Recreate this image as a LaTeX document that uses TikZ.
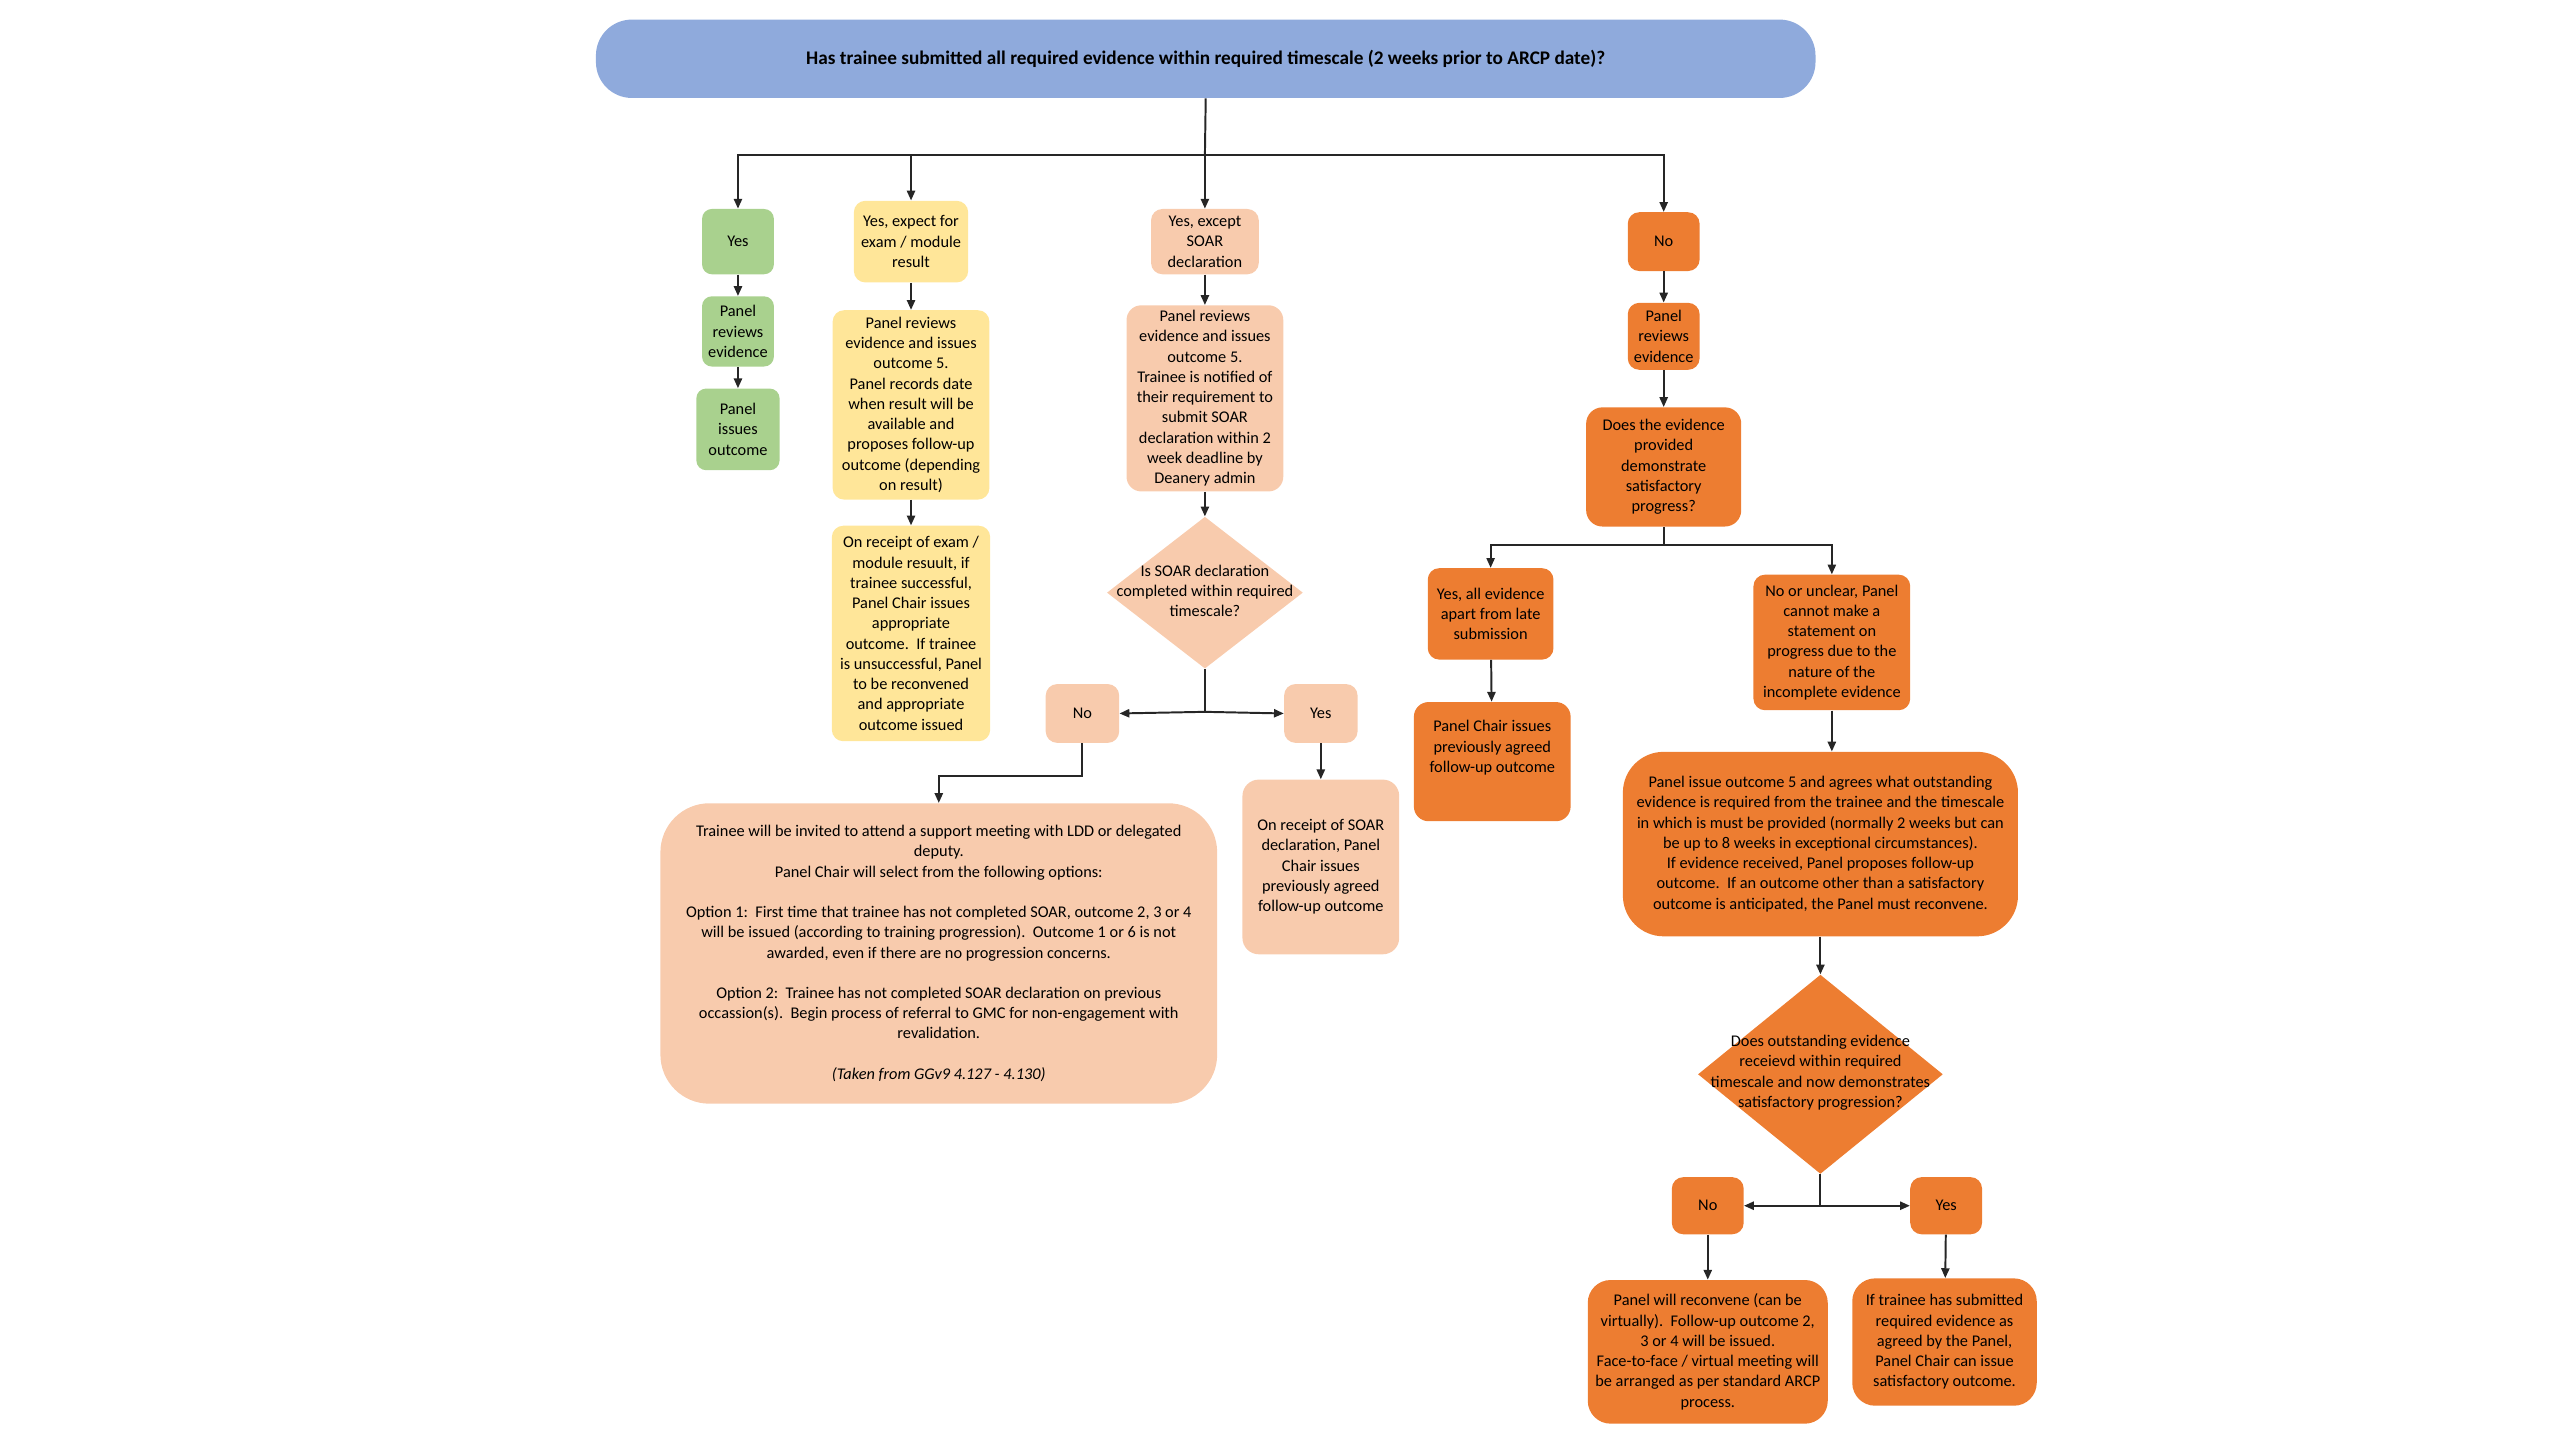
\documentclass[tikz,border=0pt]{standalone}
\usepackage{fontspec}
\setmainfont{Carlito}
\usetikzlibrary{arrows.meta,shapes.geometric,calc}
\definecolor{barblue}{HTML}{8FAADC}
\definecolor{grn}{HTML}{A9D18E}
\definecolor{ylw}{HTML}{FFE699}
\definecolor{pch}{HTML}{F8CBAD}
\definecolor{orng}{HTML}{ED7D31}
\begin{document}
\begin{tikzpicture}[x=1pt,y=-1pt,
  base/.style={align=center, inner sep=1pt, font=\fontsize{10}{12.4}\selectfont, text=black},
  sz/.style 2 args={minimum width=#1pt, minimum height=#2pt},
  gbox/.style={base, fill=grn, rounded corners=6pt},
  ybox/.style={base, fill=ylw, rounded corners=7pt},
  pbox/.style={base, fill=pch, rounded corners=7pt},
  obox/.style={base, fill=orng, rounded corners=7pt},
  dtext/.style={base},
  ln/.style={draw=black!85, line width=1.2pt},
  arr/.style={ln, -{Triangle[length=6pt,width=5pt]}},
]
\useasboundingbox (0,0) rectangle (1568,882);

% top bar
\node[base, fill=barblue, rounded corners=22pt, sz={747}{48}, font=\fontsize{11.8}{13}\selectfont\bfseries] (bar) at (738.5,36)
  {Has trainee submitted all required evidence within required timescale (2 weeks prior to ARCP date)?};

% green column
\node[gbox, sz={44}{40}] (y1) at (452,148) {Yes};
\node[gbox, sz={44}{43}] (y2) at (452,203) {Panel\\reviews\\evidence};
\node[gbox, sz={51}{50}] (y3) at (452,263) {Panel\\issues\\outcome};

% yellow column
\node[ybox, sz={70}{50}] (e1) at (558,148) {Yes, expect for\\exam / module\\result};
\node[ybox, sz={96}{116}] (e2) at (558,248) {Panel reviews\\evidence and issues\\outcome 5.\\Panel records date\\when result will be\\available and\\proposes follow-up\\outcome (depending\\on result)};
\node[ybox, sz={97}{132}] (e3) at (558,388) {On receipt of exam /\\module resuult, if\\trainee successful,\\Panel Chair issues\\appropriate\\outcome.\ \ If trainee\\is unsuccessful, Panel\\to be reconvened\\and appropriate\\outcome issued};

% peach column
\node[pbox, sz={66}{40}] (s1) at (738,148) {Yes, except\\SOAR\\declaration};
\node[pbox, sz={96}{114}, rounded corners=9pt] (s2) at (738,244) {Panel reviews\\evidence and issues\\outcome 5.\\Trainee is notified of\\their requirement to\\submit SOAR\\declaration within 2\\week deadline by\\Deanery admin};
\node[draw=none, fill=pch, diamond, inner sep=0pt, minimum width=120pt, minimum height=93pt] (sd) at (738,363) {};
\node[dtext] (sdt) at (738,362) {Is SOAR declaration\\completed within required\\timescale?};
\node[pbox, sz={45}{36}] (sn) at (663,437) {No};
\node[pbox, sz={45}{36}] (sy) at (809,437) {Yes};
\node[pbox, sz={341}{184}, rounded corners=30pt] (sbig) at (575,584) {Trainee will be invited to attend a support meeting with LDD or delegated\\deputy.\\Panel Chair will select from the following options:\\[12.4pt]Option 1:\ \ First time that trainee has not completed SOAR, outcome 2, 3 or 4\\will be issued (according to training progression).\ \ Outcome 1 or 6 is not\\awarded, even if there are no progression concerns.\\[12.4pt]Option 2:\ \ Trainee has not completed SOAR declaration on previous\\occassion(s).\ \ Begin process of referral to GMC for non-engagement with\\revalidation.\\[12.4pt]\textit{(Taken from GGv9 4.127 - 4.130)}};
\node[pbox, sz={96}{107}, rounded corners=10pt] (sr) at (809,531) {On receipt of SOAR\\declaration, Panel\\Chair issues\\previously agreed\\follow-up outcome};

% orange column
\node[obox, sz={44}{36}] (n1) at (1019,148) {No};
\node[obox, sz={44}{41}] (n2) at (1019,206) {Panel\\reviews\\evidence};
\node[obox, sz={95}{73}, rounded corners=10pt] (nq) at (1019,286) {Does the evidence\\provided\\demonstrate\\satisfactory\\progress?};
\node[obox, sz={77}{56}] (na) at (913,376) {Yes, all evidence\\apart from late\\submission};
\node[obox, sz={96}{83}] (nu) at (1122,393.5) {No or unclear, Panel\\cannot make a\\statement on\\progress due to the\\nature of the\\incomplete evidence};
\node[obox, sz={96}{73}, rounded corners=9pt] (pc) at (914,466.5) {};
\node[base] (pct) at (914,458) {Panel Chair issues\\previously agreed\\follow-up outcome};
\node[obox, sz={242}{113}, rounded corners=25pt] (pio) at (1115,517) {Panel issue outcome 5 and agrees what outstanding\\evidence is required from the trainee and the timescale\\in which is must be provided (normally 2 weeks but can\\be up to 8 weeks in exceptional circumstances).\\If evidence received, Panel proposes follow-up\\outcome.\ \ If an outcome other than a satisfactory\\outcome is anticipated, the Panel must reconvene.};
\node[draw=none, fill=orng, diamond, inner sep=0pt, minimum width=150pt, minimum height=122pt] (d2) at (1115,658) {};
\node[dtext] (d2t) at (1115,657) {Does outstanding evidence\\receievd within required\\timescale and now demonstrates\\satisfactory progression?};
\node[obox, sz={44}{35}] (dn) at (1046,738.5) {No};
\node[obox, sz={44}{35}] (dy) at (1192,738.5) {Yes};
\node[obox, sz={147}{88}, rounded corners=14pt] (rec) at (1046,828) {Panel will reconvene (can be\\virtually).\ \ Follow-up outcome 2,\\3 or 4 will be issued.\\Face-to-face / virtual meeting will\\be arranged as per standard ARCP\\process.};
\node[obox, sz={113}{78}, rounded corners=14pt] (ift) at (1191,822) {If trainee has submitted\\required evidence as\\agreed by the Panel,\\Panel Chair can issue\\satisfactory outcome.};

% connectors
\coordinate (j0) at (738,95);
\draw[ln] (bar.south) -- (j0);
\draw[arr] (j0) -| (y1.north);
\draw[arr] (j0) -| (e1.north);
\draw[arr] (j0) -- (s1.north);
\draw[arr] (j0) -| (n1.north);

\draw[arr] (y1) -- (y2);
\draw[arr] (y2) -- (y3);
\draw[arr] (e1) -- (e2);
\draw[arr] (e2) -- (e3);
\draw[arr] (s1) -- (s2);
\draw[arr] (s2) -- (sd);

\coordinate (j1) at (738,436);
\draw[ln] (sd.south) -- (j1);
\draw[arr] (j1) -- (sn.east);
\draw[arr] (j1) -- (sy.west);
\draw[arr] (sn.south) -- ++(0,20) -| (sbig.north);
\draw[arr] (sy) -- (sr);

\draw[arr] (n1) -- (n2);
\draw[arr] (n2) -- (nq);
\coordinate (j2) at (1019,334);
\draw[ln] (nq.south) -- (j2);
\draw[arr] (j2) -| (na.north);
\draw[arr] (j2) -| (nu.north);
\draw[arr] (na) -- (pc);
\draw[arr] (nu.south) -- (nu.south |- pio.north);
\draw[arr] (pio) -- (d2);

\coordinate (j3) at (1115,738.5);
\draw[ln] (d2.south) -- (j3);
\draw[arr] (j3) -- (dn.east);
\draw[arr] (j3) -- (dy.west);
\draw[arr] (dn) -- (rec);
\draw[arr] (dy) -- (ift);
\end{tikzpicture}
\end{document}
